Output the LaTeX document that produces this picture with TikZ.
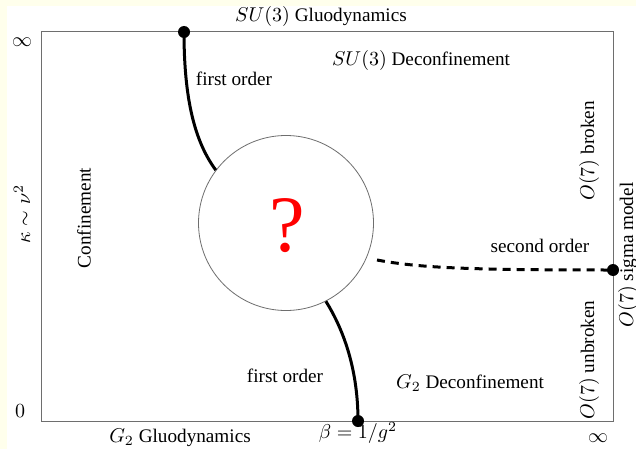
\documentclass[tikz,border=0pt]{standalone}
\usepackage{fontspec}
\setmainfont{Liberation Serif}
\definecolor{bgyellow}{RGB}{255,255,236}
\definecolor{framegray}{RGB}{110,110,110}
\begin{document}
\begin{tikzpicture}[x=0.5pt,y=-0.5pt,
  lbl/.style={inner sep=0pt,font=\fontsize{9.6}{11}\selectfont},
  rlbl/.style={lbl,rotate=90},
  thickline/.style={line width=1.5pt},
  dot/.style={circle,fill=black,inner sep=0pt,minimum size=6pt}]
\useasboundingbox (0,0) rectangle (636,449);
\fill[bgyellow] (0,0) rectangle (636,449);
\fill[white] (7,6) rectangle (636,449);
\draw[framegray,line width=0.5pt] (41.5,32) rectangle (613.5,421);
% circle
\node[circle,draw=framegray,line width=0.4pt,minimum size=87.5pt,inner sep=0pt] (q) at (286,223) {};
\node[lbl,text=red,font=\fontsize{40}{40}\selectfont] (qm) at (287,226) {?};
% dots
\node[dot] (top) at (184,32) {};
\node[dot] (bot) at (358,421) {};
\node[dot] (right) at (613,270) {};
\coordinate (ds) at (377,260);
% curves
\draw[thickline] (top.center) .. controls (184,100) and (195,142) .. (q.143.9);
\draw[thickline] (q.-63.7) .. controls (345,332) and (358,372) .. (bot.center);
\draw[thickline,dash pattern=on 4pt off 3pt] (ds) .. controls (420,268) and (470,270) .. (right.center);
% labels
\node[lbl] (sug) at (321,17) {$SU(3)$ Gluodynamics};
\node[lbl] (inf1) at (22,42) {$\infty$};
\node[lbl] (zero) at (20,411) {$0$};
\node[rlbl] (kappa) at (22,214) {$\kappa\sim\nu^2$};
\node[rlbl] (conf) at (84,218) {Confinement};
\node[lbl] (fo1) at (234,79) {first order};
\node[lbl] (sud) at (421,61) {$SU(3)$ Deconfinement};
\node[rlbl] (ob) at (589,151) {$O(7)$ broken};
\node[rlbl] (osm) at (628,255) {$O(7)$ sigma model};
\node[lbl] (so) at (540,246) {second order};
\node[rlbl] (ou) at (589,360) {$O(7)$ unbroken};
\node[lbl] (fo2) at (285,376) {first order};
\node[lbl] (g2d) at (470,383) {$G_2$ Deconfinement};
\node[lbl] (g2g) at (180,438) {$G_2$ Gluodynamics};
\node[lbl] (beta) at (358,433) {$\beta=1/g^2$};
\node[lbl] (inf2) at (598,438) {$\infty$};
\end{tikzpicture}
\end{document}
